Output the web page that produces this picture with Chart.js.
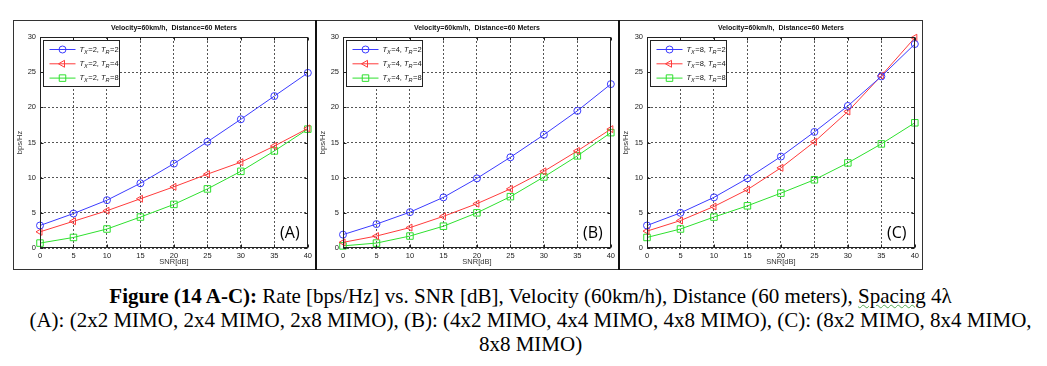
<!DOCTYPE html>
<html>
<head>
<meta charset="utf-8">
<script src="https://cdn.jsdelivr.net/npm/chart.js@4.4.1/dist/chart.umd.min.js"></script>
<style>
    body { margin: 0; background: #fff; width: 1047px; height: 366px; overflow: hidden; position: relative; }
    #frame { position: absolute; left: 13px; top: 20px; width: 910px; height: 250px; border: 1px solid #333; box-sizing: border-box; }
    .divider { position: absolute; top: 20px; width: 2px; height: 250px; background: #111; }
    canvas { position: absolute; top: 21px; }
    #caption { position: absolute; left: 14px; top: 284px; width: 1033px; text-align: center; font-family: "Liberation Serif", "Times New Roman", serif; font-size: 21px; line-height: 24px; color: #000; white-space: nowrap; }
    .wavy { text-decoration: underline wavy #5a5; text-decoration-thickness: 1px; }
</style>
</head>
<body>
<div id="frame"></div>
<div class="divider" style="left:315px"></div>
<div class="divider" style="left:618px"></div>
<canvas id="chartA" width="301" height="248" style="left:14px"></canvas>
<canvas id="chartB" width="301" height="248" style="left:317px"></canvas>
<canvas id="chartC" width="302" height="248" style="left:620px"></canvas>
<div id="caption"><b>Figure (14 A-C):</b> Rate [bps/Hz] vs. SNR [dB], Velocity (60km/h), Distance (60 meters), <span class="wavy">Spacing</span> 4λ<br>(A): (2x2 MIMO, 2x4 MIMO, 2x8 MIMO), (B): (4x2 MIMO, 4x4 MIMO, 4x8 MIMO), (C): (8x2 MIMO, 8x4 MIMO,<br>8x8 MIMO)</div>

<script>
// --- Data ---
const snr = [0, 5, 10, 15, 20, 25, 30, 35, 40];

// (A) Tx = 2
const a_tr2 = [3.2, 4.9, 6.8, 9.2, 12.0, 15.1, 18.3, 21.6, 24.9];
const a_tr4 = [2.3, 3.8, 5.3, 7.0, 8.7, 10.5, 12.2, 14.5, 17.0];
const a_tr8 = [0.7, 1.5, 2.7, 4.4, 6.2, 8.4, 10.9, 13.8, 16.9];
// (B) Tx = 4
const b_tr2 = [1.9, 3.4, 5.1, 7.2, 9.9, 12.9, 16.1, 19.5, 23.3];
const b_tr4 = [0.8, 1.7, 2.9, 4.5, 6.3, 8.4, 10.9, 13.8, 16.9];
const b_tr8 = [0.3, 0.7, 1.7, 3.1, 5.0, 7.3, 10.1, 13.1, 16.4];
// (C) Tx = 8
const c_tr2 = [3.2, 5.0, 7.2, 9.9, 13.0, 16.5, 20.2, 24.4, 29.0];
const c_tr4 = [2.4, 3.9, 5.9, 8.3, 11.4, 15.1, 19.4, 24.5, 29.9];
const c_tr8 = [1.5, 2.7, 4.4, 6.0, 7.8, 9.7, 12.1, 14.8, 17.8];

const legendA = ['T_X=2, T_R=2', 'T_X=2, T_R=4', 'T_X=2, T_R=8'];
const legendB = ['T_X=4, T_R=2', 'T_X=4, T_R=4', 'T_X=4, T_R=8'];
const legendC = ['T_X=8, T_R=2', 'T_X=8, T_R=4', 'T_X=8, T_R=8'];

const plotTitle = 'Velocity=60km/h,  Distance=60 Meters';
const xTitle = 'SNR[dB]';
const yTitle = 'bps/Hz';

const FONT = '"Liberation Sans", Arial, sans-serif';

// matlab-ish marker per series: 'o', '<', 's'
const styles = [
    { color: '#3b3bff', point: 'circle', rot: 0, r: 3.5 },
    { color: '#ff3b3b', point: 'triangle', rot: -90, r: 4 },
    { color: '#2ee02e', point: 'rect', rot: 0, r: 4.6 }
];

// draws "T_X=2" with italic T and subscript
function drawRich(ctx, x, y, label) {
    const parts = label.split(/(T_[XR])/);
    ctx.textBaseline = 'middle';
    ctx.textAlign = 'left';
    ctx.fillStyle = '#111';
    parts.forEach(p => {
        if (!p) return;
        const m = p.match(/^T_([XR])$/);
        if (m) {
            ctx.font = 'italic 7.5px ' + FONT;
            ctx.fillText('T', x, y);
            x += ctx.measureText('T').width;
            ctx.font = 'italic 5.5px ' + FONT;
            ctx.fillText(m[1], x, y + 2.5);
            x += ctx.measureText(m[1]).width + 0.5;
        } else {
            ctx.font = '7.5px ' + FONT;
            ctx.fillText(p, x, y);
            x += ctx.measureText(p).width;
        }
    });
}

// --- axes box, ticks, legend, titles ---
const panelDecor = {
    id: 'panelDecor',
    afterDraw(chart, args, opts) {
        const ctx = chart.ctx;
        const a = chart.chartArea;
        const xs = chart.scales.x, ys = chart.scales.y;
        ctx.save();
        ctx.setLineDash([]);
        ctx.strokeStyle = '#222';
        ctx.lineWidth = 1;

        // box + inward ticks
        const L = Math.round(a.left) + 0.5, T = Math.round(a.top) + 0.5;
        const R = Math.round(a.right) - 0.5, B = Math.round(a.bottom) - 0.5;
        ctx.strokeRect(L, T, R - L, B - T);
        ctx.beginPath();
        xs.ticks.forEach(t => {
            const px = Math.round(xs.getPixelForValue(t.value)) + 0.5;
            ctx.moveTo(px, B); ctx.lineTo(px, B - 3);
            ctx.moveTo(px, T); ctx.lineTo(px, T + 3);
        });
        ys.ticks.forEach(t => {
            const py = Math.round(ys.getPixelForValue(t.value)) + 0.5;
            ctx.moveTo(L, py); ctx.lineTo(L + 3, py);
            ctx.moveTo(R, py); ctx.lineTo(R - 3, py);
        });
        ctx.stroke();

        // legend box
        const lx = L + 3, ly = T + 3, lw = 76, lh = 46;
        ctx.fillStyle = '#fff';
        ctx.fillRect(lx, ly, lw, lh);
        ctx.strokeStyle = '#222';
        ctx.strokeRect(lx, ly, lw, lh);
        chart.data.datasets.forEach((ds, i) => {
            const yy = ly + 9 + i * 14.3;
            ctx.strokeStyle = ds.borderColor;
            ctx.beginPath();
            ctx.moveTo(lx + 6, yy); ctx.lineTo(lx + 32, yy);
            ctx.stroke();
            ctx.fillStyle = 'rgba(0,0,0,0)';
            Chart.helpers.drawPoint(ctx, {
                pointStyle: ds.pointStyle, rotation: ds.pointRotation,
                radius: ds.pointRadius, borderWidth: 1
            }, lx + 19, yy);
            drawRich(ctx, lx + 36, yy, opts.labels[i]);
        });

        // titles
        ctx.fillStyle = '#111';
        ctx.textAlign = 'center';
        ctx.textBaseline = 'middle';
        ctx.font = 'bold 7px ' + FONT;
        ctx.fillText(plotTitle, (a.left + a.right) / 2, 7);
        ctx.font = '7.5px ' + FONT;
        ctx.fillStyle = '#333';
        ctx.fillText(xTitle, (a.left + a.right) / 2, 241);
        ctx.save();
        ctx.translate(6, (a.top + a.bottom) / 2);
        ctx.rotate(-Math.PI / 2);
        ctx.fillText(yTitle, 0, 0);
        ctx.restore();

        // panel letter
        ctx.fillStyle = '#000';
        ctx.font = '16px "Open Sans", ' + FONT;
        ctx.fillText(opts.letter, a.right - 18, a.bottom - 15);
        ctx.restore();
    }
};

function makePanel(canvasId, series, labels, letter, plotLeft, plotRight) {
    const canvas = document.getElementById(canvasId);
    const ctx = canvas.getContext('2d');
    return new Chart(ctx, {
        type: 'line',
        data: {
            datasets: series.map((vals, i) => ({
                label: labels[i],
                data: snr.map((s, k) => ({ x: s, y: vals[k] })),
                borderColor: styles[i].color,
                backgroundColor: 'rgba(0,0,0,0)',
                borderWidth: 1,
                tension: 0,
                pointStyle: styles[i].point,
                pointRotation: styles[i].rot,
                pointRadius: styles[i].r,
                pointBorderWidth: 1,
                pointBackgroundColor: 'rgba(0,0,0,0)',
                clip: false
            }))
        },
        options: {
            responsive: false,
            animation: false,
            events: [],
            layout: { padding: { left: 0, top: 16, right: canvas.width - plotRight, bottom: 0 } },
            plugins: {
                legend: { display: false },
                tooltip: { enabled: false },
                panelDecor: { labels: labels, letter: letter }
            },
            scales: {
                x: {
                    type: 'linear', min: 0, max: 40,
                    afterFit: (axis) => { axis.height = 21; },
                    ticks: { stepSize: 5, padding: 3, color: '#222', font: { family: FONT, size: 7.5 }, maxRotation: 0 },
                    grid: { color: '#555', lineWidth: 1, drawTicks: false },
                    border: { display: false, dash: [2, 2] }
                },
                y: {
                    min: 0, max: 30,
                    afterFit: (axis) => { axis.width = plotLeft; },
                    ticks: { stepSize: 5, padding: 4, color: '#222', font: { family: FONT, size: 7.5 } },
                    grid: { color: '#555', lineWidth: 1, drawTicks: false },
                    border: { display: false, dash: [2, 2] }
                }
            }
        },
        plugins: [panelDecor]
    });
}

makePanel('chartA', [a_tr2, a_tr4, a_tr8], legendA, '(A)', 26, 294);
makePanel('chartB', [b_tr2, b_tr4, b_tr8], legendB, '(B)', 26, 295);
makePanel('chartC', [c_tr2, c_tr4, c_tr8], legendC, '(C)', 27, 295);
</script>
</body>
</html>
